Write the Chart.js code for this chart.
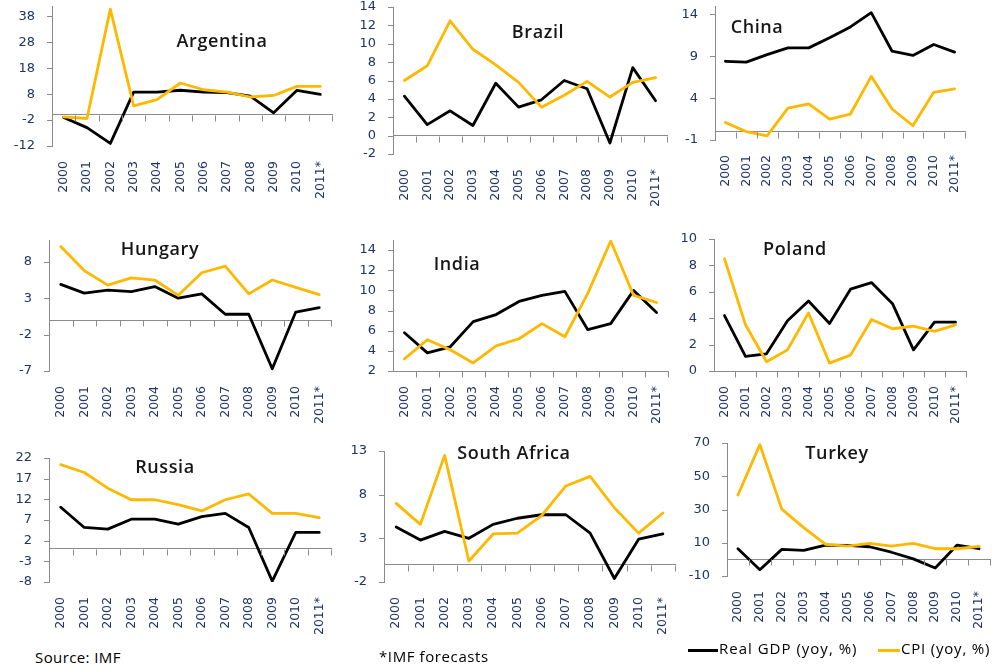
<!DOCTYPE html>
<html>
<head>
<meta charset="utf-8">
<script src="https://cdn.jsdelivr.net/npm/chart.js@4.4.1/dist/chart.umd.min.js"></script>
<style>
  body { margin: 0; background: #fff; width: 1003px; height: 670px; overflow: hidden; position: relative; }
  canvas { position: absolute; }
  .ttl { position: absolute; font: 600 18px 'Open Sans', sans-serif; letter-spacing: 0.6px; color: #161616;
         line-height: 1; white-space: nowrap; transform: translateX(-50%); }
  .note { position: absolute; font: 15px 'Open Sans', sans-serif; color: #000; line-height: 1; white-space: nowrap; }
  .swatch { position: absolute; height: 3px; }
</style>
</head>
<body>
<script>
// ---- data ----
const years = ['2000', '2001', '2002', '2003', '2004', '2005', '2006', '2007', '2008', '2009', '2010', '2011*'];

const argentinaGdp = [-1.0, -4.9, -11.0, 8.8, 8.8, 9.5, 8.8, 8.6, 7.2, 0.8, 9.5, 7.9];
const argentinaCpi = [-0.8, -1.4, 40.8, 3.5, 5.9, 12.3, 9.7, 8.8, 6.9, 7.5, 11.0, 11.0];
const argentinaTicks = [-12, -2, 8, 18, 28, 38];

const brazilGdp = [4.3, 1.2, 2.7, 1.1, 5.7, 3.1, 3.9, 6.0, 5.1, -0.8, 7.4, 3.8];
const brazilCpi = [6.0, 7.6, 12.5, 9.4, 7.7, 5.8, 3.1, 4.4, 5.9, 4.2, 5.8, 6.3];
const brazilTicks = [-2, 0, 2, 4, 6, 8, 10, 12, 14];

const chinaGdp = [8.4, 8.3, 9.2, 10.0, 10.0, 11.2, 12.5, 14.2, 9.6, 9.1, 10.4, 9.5];
const chinaCpi = [1.1, 0.0, -0.5, 2.8, 3.3, 1.5, 2.1, 6.6, 2.7, 0.7, 4.7, 5.1];
const chinaTicks = [-1, 4, 9, 14];

const hungaryGdp = [4.9, 3.7, 4.1, 3.9, 4.6, 3.0, 3.6, 0.8, 0.8, -6.7, 1.1, 1.7];
const hungaryCpi = [10.1, 6.8, 4.8, 5.8, 5.5, 3.4, 6.5, 7.4, 3.6, 5.5, 4.5, 3.5];
const hungaryTicks = [-7, -2, 3, 8];

const indiaGdp = [5.8, 3.8, 4.4, 6.9, 7.6, 8.9, 9.5, 9.9, 6.1, 6.7, 10.0, 7.8];
const indiaCpi = [3.2, 5.1, 4.1, 2.8, 4.5, 5.2, 6.7, 5.4, 9.7, 14.9, 9.5, 8.8];
const indiaTicks = [2, 4, 6, 8, 10, 12, 14];

const polandGdp = [4.2, 1.1, 1.3, 3.8, 5.3, 3.6, 6.2, 6.7, 5.1, 1.6, 3.7, 3.7];
const polandCpi = [8.5, 3.5, 0.7, 1.6, 4.4, 0.6, 1.2, 3.9, 3.2, 3.4, 3.0, 3.5];
const polandTicks = [0, 2, 4, 6, 8, 10];

const russiaGdp = [10.1, 5.2, 4.8, 7.2, 7.2, 6.0, 7.8, 8.6, 5.2, -7.8, 4.0, 4.0];
const russiaCpi = [20.4, 18.5, 14.7, 11.9, 11.9, 10.7, 9.2, 11.9, 13.3, 8.6, 8.6, 7.6];
const russiaTicks = [-8, -3, 2, 7, 12, 17, 22];

const southAfricaGdp = [4.3, 2.8, 3.8, 3.0, 4.6, 5.3, 5.7, 5.7, 3.6, -1.6, 2.9, 3.5];
const southAfricaCpi = [7.0, 4.6, 12.5, 0.4, 3.5, 3.6, 5.6, 9.0, 10.1, 6.5, 3.6, 5.9];
const southAfricaTicks = [-2, 3, 8, 13];

const turkeyGdp = [6.4, -6.2, 6.0, 5.4, 8.6, 8.4, 7.6, 4.3, 0.3, -5.2, 8.6, 6.4];
const turkeyCpi = [38.7, 69.0, 30.2, 19.1, 9.0, 8.0, 9.6, 8.0, 9.6, 6.4, 6.4, 7.8];
const turkeyTicks = [-10, 10, 30, 50, 70];

// ---- layout: plot area [left, top, right, bottom] in page px, axis range, title spot ----
const panels = [
  { name: 'Argentina', gdp: argentinaGdp, cpi: argentinaCpi, ticks: argentinaTicks, min: -12, max: 42, area: [52, 6, 332, 146], title: [222, 34] },
  { name: 'Brazil', gdp: brazilGdp, cpi: brazilCpi, ticks: brazilTicks, min: -2, max: 14, area: [393, 7, 667, 154], title: [538, 25] },
  { name: 'China', gdp: chinaGdp, cpi: chinaCpi, ticks: chinaTicks, min: -1, max: 15, area: [715, 6, 965, 140], title: [757, 20] },
  { name: 'Hungary', gdp: hungaryGdp, cpi: hungaryCpi, ticks: hungaryTicks, min: -7, max: 11, area: [49, 240, 331, 371], title: [160, 242] },
  { name: 'India', gdp: indiaGdp, cpi: indiaCpi, ticks: indiaTicks, min: 2, max: 15, area: [393, 240, 668, 371], title: [457, 257] },
  { name: 'Poland', gdp: polandGdp, cpi: polandCpi, ticks: polandTicks, min: 0, max: 10, area: [714, 239, 966, 371], title: [795, 242] },
  { name: 'Russia', gdp: russiaGdp, cpi: russiaCpi, ticks: russiaTicks, min: -8, max: 22, area: [49, 458, 331, 582], title: [165, 460] },
  { name: 'South Africa', gdp: southAfricaGdp, cpi: southAfricaCpi, ticks: southAfricaTicks, min: -2, max: 13, area: [384, 451, 675, 582], title: [514, 446] },
  { name: 'Turkey', gdp: turkeyGdp, cpi: turkeyCpi, ticks: turkeyTicks, min: -10, max: 70, area: [727, 443, 990, 576], title: [837, 446] },
];

const GDP_COLOR = '#000000';
const CPI_COLOR = '#FFB800';
const AXIS_COLOR = '#8a8a8a';
const TICK_COLOR = '#1F3566';
const YW = 48, XH = 62, PT = 8, PR = 8;

// Excel-style tick marks: outside the value axis, below the category axis between categories
const axisMarks = {
  id: 'axisMarks',
  afterDraw(chart, args, opts) {
    const { ctx, chartArea: a, scales: { x, y } } = chart;
    ctx.save();
    ctx.strokeStyle = AXIS_COLOR;
    ctx.lineWidth = 1;
    ctx.beginPath();
    y.ticks.forEach(t => {
      const py = Math.round(y.getPixelForValue(t.value)) + 0.5;
      ctx.moveTo(a.left - 5, py);
      ctx.lineTo(a.left, py);
    });
    const cy = Math.round(y.getPixelForValue(opts.cross)) + 0.5;
    const half = (x.getPixelForValue(1) - x.getPixelForValue(0)) / 2;
    for (let i = 1; i <= x.ticks.length; i++) {
      const px = Math.round(x.getPixelForValue(i) - half) + 0.5;
      ctx.moveTo(px, cy);
      ctx.lineTo(px, cy + 6);
    }
    ctx.stroke();
    ctx.restore();
  }
};

function makePanel(p) {
  const [aL, aT, aR, aB] = p.area;
  const left = aL - YW, top = aT - PT;
  const cv = document.createElement('canvas');
  cv.width = aR + PR - left;
  cv.height = aB + XH - top;
  cv.style.left = left + 'px';
  cv.style.top = top + 'px';
  document.body.appendChild(cv);

  // category axis crosses the value axis at 0, or at the minimum when that is above 0
  const cross = Math.max(p.min, 0);

  new Chart(cv, {
    type: 'line',
    data: {
      labels: years,
      datasets: [
        { label: 'Real GDP (yoy, %)', data: p.gdp, borderColor: GDP_COLOR, borderWidth: 2.8, order: 1 },
        { label: 'CPI (yoy, %)', data: p.cpi, borderColor: CPI_COLOR, borderWidth: 2.8, order: 0 }
      ]
    },
    plugins: [axisMarks],
    options: {
      responsive: false,
      animation: false,
      layout: { padding: { left: 0, top: PT, right: PR, bottom: 0 } },
      elements: {
        point: { radius: 0, hoverRadius: 0 },
        line: { tension: 0, borderJoinStyle: 'round', borderCapStyle: 'round', fill: false }
      },
      plugins: {
        legend: { display: false },
        tooltip: { enabled: false },
        axisMarks: { cross }
      },
      scales: {
        x: {
          type: 'category',
          position: 'bottom',
          offset: true,
          grid: { display: false, drawTicks: false },
          border: { display: false },
          ticks: {
            autoSkip: false, minRotation: 90, maxRotation: 90, padding: 15,
            color: TICK_COLOR, font: { family: 'DejaVu Sans', size: 12.5 }
          },
          afterFit: s => { s.height = XH; s.paddingLeft = 0; s.paddingRight = 0; }
        },
        x0: {
          type: 'category',
          position: { y: cross },
          offset: true,
          grid: { display: false },
          border: { display: true, color: AXIS_COLOR, width: 1 },
          ticks: { display: false },
          afterFit: s => { s.paddingLeft = 0; s.paddingRight = 0; }
        },
        y: {
          position: 'left',
          min: p.min,
          max: p.max,
          grid: { display: false },
          border: { display: true, color: AXIS_COLOR, width: 1 },
          ticks: {
            autoSkip: false, padding: 9, color: TICK_COLOR, font: { family: 'DejaVu Sans', size: 13 },
            callback: v => String(v)
          },
          afterBuildTicks: s => { s.ticks = p.ticks.map(v => ({ value: v })); },
          afterFit: s => { s.width = YW; s.paddingTop = 0; s.paddingBottom = 0; }
        }
      }
    }
  });

  const t = document.createElement('div');
  t.className = 'ttl';
  t.textContent = p.name;
  t.style.left = p.title[0] + 'px';
  t.style.top = (p.title[1] - 3) + 'px';
  document.body.appendChild(t);
}

panels.forEach(makePanel);

// footer notes and legend
function note(text, x, y, spacing) {
  const d = document.createElement('div');
  d.className = 'note';
  d.textContent = text;
  d.style.left = x + 'px';
  d.style.top = y + 'px';
  d.style.letterSpacing = spacing + 'px';
  document.body.appendChild(d);
}
function swatch(color, x, y, w) {
  const d = document.createElement('div');
  d.className = 'swatch';
  d.style.background = color;
  d.style.left = x + 'px';
  d.style.top = y + 'px';
  d.style.width = w + 'px';
  document.body.appendChild(d);
}
note('Source: IMF', 35, 650, 0.4);
note('*IMF forecasts', 379, 649, 0.6);
swatch(GDP_COLOR, 688, 649, 30);
note('Real GDP (yoy, %)', 719, 641, 1);
swatch(CPI_COLOR, 878, 649, 22);
note('CPI (yoy, %)', 901, 641, 0.8);
</script>
</body>
</html>
